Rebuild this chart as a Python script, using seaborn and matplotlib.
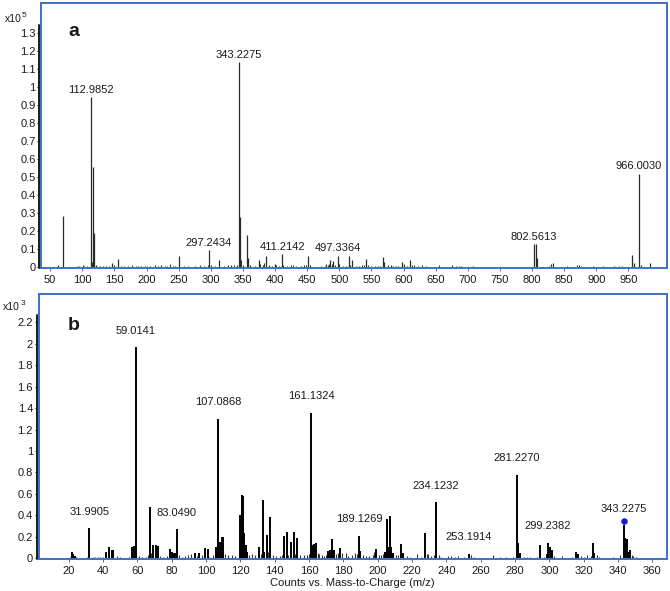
import numpy as np
import pandas as pd
import matplotlib
matplotlib.use("Agg")
import matplotlib.pyplot as plt
import seaborn as sns
from matplotlib.ticker import FuncFormatter

# ---------------- data: panel a (intensity in x10^5 counts) ----------------
mz_a_major = [70.6, 112.9852, 117.2, 118.9, 146.7, 155.3, 250.1, 297.2434, 313.3, 343.2275,
              344.8, 356.0, 358.0, 374.8, 386.4, 399.3, 411.2142, 451.8, 485.5, 490.0,
              497.3364, 514.8, 520.0, 541.3, 567.5, 570.0, 596.8, 610.0, 802.5613, 805.4,
              807.5, 832.0, 955.3, 958.5, 966.0030, 982.8]
int_a_major = [0.287, 0.945, 0.555, 0.190, 0.024, 0.048, 0.065, 0.094, 0.043, 1.141,
               0.277, 0.180, 0.050, 0.040, 0.065, 0.020, 0.072, 0.065, 0.040, 0.035,
               0.065, 0.060, 0.040, 0.045, 0.056, 0.030, 0.030, 0.040, 0.130, 0.130,
               0.050, 0.025, 0.070, 0.025, 0.520, 0.026]
mz_a_minor = [62, 92, 95, 100.7, 103, 108, 114.5, 122, 127, 132,
              137, 141, 150, 160, 165, 171, 177, 183, 186, 192,
              197, 201, 206, 212.7, 218, 223, 228, 232, 236.5, 241,
              245, 258, 265, 270, 276, 283, 289, 295, 300, 306,
              320, 326, 331, 336, 341, 347, 350, 361, 368, 377,
              380.7, 383, 391, 395, 401, 406, 413, 418, 425, 428,
              433, 440, 445, 448, 455, 465, 472, 478, 480, 482,
              484, 488, 493, 499, 505, 510, 517, 526, 530, 535,
              538, 545, 549, 555, 560, 564, 575, 580, 584, 588,
              592, 601, 606, 613, 617, 622, 628, 635, 642, 655,
              664, 676, 681, 686, 690, 700, 708, 714, 720, 728,
              735, 745, 760, 775, 785, 795, 812, 820, 826, 829,
              840, 855, 863, 870.5, 873, 876, 884, 895, 902, 910,
              920, 928, 935, 940, 948, 969, 975, 990]
int_a_minor = [0.010, 0.005, 0.006, 0.012, 0.008, 0.005, 0.030, 0.010, 0.008, 0.006,
               0.008, 0.006, 0.010, 0.008, 0.006, 0.008, 0.010, 0.006, 0.006, 0.005,
               0.005, 0.006, 0.005, 0.014, 0.008, 0.010, 0.006, 0.008, 0.018, 0.006,
               0.008, 0.005, 0.005, 0.004, 0.008, 0.010, 0.006, 0.015, 0.010, 0.005,
               0.006, 0.015, 0.010, 0.010, 0.015, 0.040, 0.012, 0.010, 0.006, 0.020,
               0.010, 0.025, 0.010, 0.006, 0.015, 0.005, 0.010, 0.005, 0.010, 0.010,
               0.005, 0.006, 0.010, 0.010, 0.010, 0.004, 0.005, 0.008, 0.020, 0.015,
               0.020, 0.020, 0.010, 0.020, 0.006, 0.008, 0.015, 0.005, 0.006, 0.010,
               0.010, 0.010, 0.006, 0.005, 0.008, 0.006, 0.010, 0.010, 0.005, 0.006,
               0.005, 0.020, 0.008, 0.015, 0.010, 0.006, 0.015, 0.005, 0.004, 0.015,
               0.004, 0.010, 0.008, 0.006, 0.005, 0.004, 0.006, 0.004, 0.004, 0.004,
               0.004, 0.004, 0.003, 0.004, 0.004, 0.003, 0.004, 0.004, 0.005, 0.020,
               0.004, 0.005, 0.003, 0.012, 0.010, 0.008, 0.003, 0.005, 0.003, 0.005,
               0.003, 0.005, 0.005, 0.005, 0.004, 0.015, 0.004, 0.003]
labels_a = ["112.9852", "297.2434", "343.2275", "411.2142", "497.3364", "802.5613", "966.0030"]

# ---------------- data: panel b (intensity in x10^3 counts) ----------------
mz_b_major = [21.7, 22.5, 23.5, 31.9905, 41.5, 43.5, 45.0, 46.0, 57.0, 58.2,
              59.0141, 67.2, 69.2, 70.7, 72.0, 78.9, 80.0, 81.0, 82.0, 83.0490,
              93.6, 96.0, 99.4, 100.9, 105.6, 107.0868, 108.2, 109.4, 110.0, 119.8,
              120.5, 121.1, 121.6, 122.3, 123.2, 124.0, 130.8, 133.0, 134.0, 135.6,
              137.0, 145.6, 147.0, 149.6, 151.3, 153.3, 161.1324, 162.2, 163.2, 164.0,
              171.0, 172.0, 173.5, 174.5, 178.0, 189.1269, 190.0, 199.2, 204.0, 205.3,
              206.0, 207.2, 208.0, 209.0, 213.7, 215.0, 227.4, 234.1232, 253.1914, 281.2270,
              282.0, 283.0, 294.6, 298.5, 299.2382, 300.2, 301.8, 315.8, 316.8, 325.3,
              326.2, 343.2275, 344.2, 345.0, 346.0, 347.0]
int_b_major = [0.056, 0.040, 0.020, 0.280, 0.055, 0.100, 0.080, 0.075, 0.100, 0.110,
               1.967, 0.480, 0.125, 0.120, 0.115, 0.087, 0.060, 0.050, 0.050, 0.270,
               0.050, 0.050, 0.090, 0.085, 0.100, 1.300, 0.150, 0.195, 0.200, 0.400,
               0.100, 0.590, 0.580, 0.230, 0.120, 0.060, 0.100, 0.545, 0.060, 0.220,
               0.380, 0.210, 0.240, 0.150, 0.245, 0.185, 1.358, 0.120, 0.130, 0.140,
               0.070, 0.080, 0.180, 0.080, 0.090, 0.210, 0.070, 0.087, 0.060, 0.365,
               0.100, 0.390, 0.100, 0.050, 0.130, 0.050, 0.230, 0.520, 0.040, 0.780,
               0.140, 0.050, 0.120, 0.040, 0.145, 0.100, 0.080, 0.060, 0.040, 0.145,
               0.050, 0.305, 0.185, 0.180, 0.060, 0.080]
mz_b_minor = [20.5, 24.5, 30.5, 34.0, 35.5, 37.0, 38.5, 40.0, 48.0, 50.0,
              55.0, 61.0, 63.0, 65.0, 66.0, 68.0, 73.0, 75.0, 77.0, 84.5,
              86.0, 88.0, 89.5, 91.0, 95.0, 97.5, 102.0, 104.0, 106.0, 111.0,
              113.0, 115.0, 117.0, 125.0, 127.0, 128.5, 132.0, 136.0, 139.0, 141.0,
              143.0, 144.5, 148.0, 150.5, 152.0, 155.0, 157.0, 159.0, 160.0, 165.0,
              166.0, 167.5, 169.0, 170.0, 175.5, 177.0, 179.0, 181.3, 183.0, 185.0,
              187.0, 188.0, 191.5, 193.0, 195.0, 197.0, 198.0, 201.0, 202.0, 203.0,
              210.5, 212.0, 217.0, 219.0, 222.7, 225.0, 228.5, 229.5, 231.0, 233.0,
              235.5, 237.0, 241.0, 243.0, 245.0, 247.0, 250.0, 254.5, 256.0, 260.0,
              267.0, 271.0, 275.0, 279.0, 285.0, 287.0, 289.0, 293.0, 297.0, 303.0,
              307.5, 313.0, 318.5, 320.0, 322.0, 324.0, 327.5, 329.0, 337.0, 341.3,
              348.0, 349.0, 350.5]
int_b_minor = [0.010, 0.010, 0.010, 0.015, 0.012, 0.012, 0.010, 0.015, 0.020, 0.010,
               0.010, 0.020, 0.010, 0.015, 0.030, 0.050, 0.020, 0.010, 0.020, 0.030,
               0.015, 0.020, 0.030, 0.040, 0.020, 0.030, 0.015, 0.030, 0.060, 0.040,
               0.030, 0.030, 0.020, 0.030, 0.040, 0.030, 0.040, 0.060, 0.030, 0.020,
               0.020, 0.030, 0.030, 0.030, 0.040, 0.030, 0.030, 0.030, 0.040, 0.050,
               0.040, 0.030, 0.020, 0.030, 0.040, 0.050, 0.050, 0.050, 0.020, 0.030,
               0.050, 0.040, 0.030, 0.020, 0.020, 0.030, 0.060, 0.030, 0.030, 0.040,
               0.030, 0.030, 0.020, 0.010, 0.040, 0.010, 0.040, 0.040, 0.020, 0.030,
               0.030, 0.010, 0.020, 0.020, 0.010, 0.020, 0.010, 0.030, 0.010, 0.005,
               0.030, 0.010, 0.010, 0.010, 0.010, 0.010, 0.010, 0.010, 0.010, 0.020,
               0.020, 0.010, 0.020, 0.010, 0.030, 0.020, 0.030, 0.010, 0.010, 0.030,
               0.030, 0.020, 0.010]
labels_b = ["31.9905", "59.0141", "83.0490", "107.0868", "161.1324", "189.1269",
            "234.1232", "253.1914", "281.2270", "299.2382", "343.2275"]
precursor_mz = [343.2275]
precursor_int = [0.350]

xticks_a = list(range(50, 951, 50))
yticks_a = [round(0.1 * i, 1) for i in range(14)]
xticks_b = list(range(20, 361, 20))
yticks_b = [round(0.2 * i, 1) for i in range(12)]

# ---------------- style ----------------
sns.set_theme(style="white")
plt.rcParams['font.family'] = ['Liberation Sans', 'DejaVu Sans']
FRAME = '#3d70c8'
TXT = '#1a1a1a'

fig = plt.figure(figsize=(6.7, 5.91), dpi=100)
W, H = 670.0, 591.0
ax_a = fig.add_axes([41.2 / W, 1 - 268 / H, (667 - 41.2) / W, (268 - 3.3) / H])
ax_b = fig.add_axes([38.6 / W, 1 - 559 / H, (666.6 - 38.6) / W, (559 - 294) / H])

fmt = FuncFormatter(lambda v, p: f"{v:g}")


def draw_panel(ax, mz_major, int_major, mz_minor, int_minor, labels, xlim, ylim,
               xticks, yticks, lab_off, color, lw_major, line_top_frac):
    minor = pd.DataFrame({"mz": mz_minor, "I": int_minor})
    major = pd.DataFrame({"mz": mz_major, "I": int_major})
    ax.vlines(minor["mz"], 0, minor["I"], color='#333333', lw=0.8)
    ax.vlines(major["mz"], 0, major["I"], color=color, lw=lw_major)
    ax.set_xlim(*xlim)
    ax.set_ylim(*ylim)
    ax.set_xticks(xticks)
    ax.set_yticks(yticks)
    ax.yaxis.set_major_formatter(fmt)
    ax.tick_params(axis='y', direction='out', length=3, width=0.8, color='k',
                   pad=1, labelsize=8, labelcolor=TXT, left=True)
    ax.tick_params(axis='x', direction='out', length=2, width=0.6, color='#555555',
                   pad=3, labelsize=8, labelcolor=TXT, bottom=True)
    for s in ax.spines.values():
        s.set_visible(True)
        s.set_color(FRAME)
        s.set_linewidth(1.4)
    ax.plot([-0.003, -0.003], [0, line_top_frac], transform=ax.transAxes,
            color='k', lw=1.4, clip_on=False, zorder=5)
    lookup = dict(zip([f"{m:.4f}" for m in mz_major], int_major))
    for lab in labels:
        m = float(lab)
        ax.annotate(lab, (m, lookup[f"{m:.4f}"]), xytext=(0, lab_off),
                    textcoords='offset points', ha='center', va='center',
                    fontsize=8, color=TXT)
    ax.set_xlabel("")
    ax.set_ylabel("")


draw_panel(ax_a, mz_a_major, int_a_major, mz_a_minor, int_a_minor, labels_a,
           (36, 1010), (-0.004, 1.466), xticks_a, yticks_a, 5.2, '#2a2a2a', 0.9, 0.918)
draw_panel(ax_b, mz_b_major, int_b_major, mz_b_minor, int_b_minor, labels_b,
           (2.5, 368.3), (-0.008, 2.464), xticks_b, yticks_b, 11.8, '#000000', 1.4, 0.921)

# precursor marker
sns.scatterplot(x=precursor_mz, y=precursor_int, ax=ax_b, marker='o', s=22,
                color='#1a1adc', edgecolor='#1a1adc', linewidth=0, zorder=6, legend=False)

# panel letters and multipliers
fig.text(74 / W, 1 - 32 / H, "a", fontsize=14, fontweight='bold', ha='center', va='center', color=TXT)
fig.text(74 / W, 1 - 326 / H, "b", fontsize=14, fontweight='bold', ha='center', va='center', color=TXT)
fig.text(13 / W, 1 - 19 / H, "x10", fontsize=7.5, ha='center', va='center', color=TXT)
fig.text(24 / W, 1 - 15.5 / H, "5", fontsize=6, ha='center', va='center', color=TXT)
fig.text(11 / W, 1 - 307.5 / H, "x10", fontsize=7.5, ha='center', va='center', color=TXT)
fig.text(22.5 / W, 1 - 304 / H, "3", fontsize=6, ha='center', va='center', color=TXT)
fig.text(352 / W, 1 - 583 / H, "Counts vs. Mass-to-Charge (m/z)", fontsize=8,
         ha='center', va='center', color=TXT)

fig.savefig("out.png", dpi=100, facecolor='white')
